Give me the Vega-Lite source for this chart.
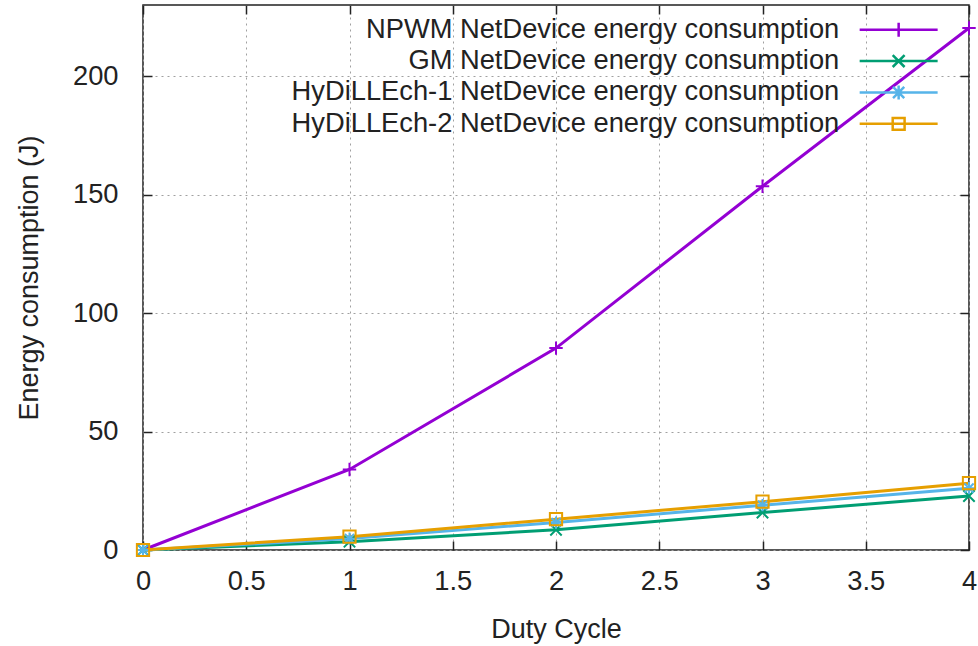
{
  "$schema": "https://vega.github.io/schema/vega-lite/v6.json",
  "width": 826,
  "height": 545,
  "autosize": {"type": "none"},
  "padding": {"left": 143, "top": 5, "right": 9, "bottom": 96},
  "background": "white",
  "config": {
    "font": "Liberation Sans",
    "view": {"stroke": "#222222", "strokeWidth": 1.5},
    "axis": {
      "labelFont": "Liberation Sans",
      "titleFont": "Liberation Sans",
      "labelFontSize": 27.3,
      "titleFontSize": 27,
      "labelColor": "#222222",
      "titleColor": "#222222",
      "titleFontWeight": "normal",
      "domain": false,
      "tickColor": "#222222",
      "tickWidth": 1.5,
      "tickSize": -9,
      "gridColor": "#a0a0a0",
      "gridDash": [2, 4],
      "gridWidth": 1
    }
  },
  "data": {
    "values": [
      {"series": "NPWM NetDevice energy consumption", "duty": 0, "energy": 0},
      {"series": "NPWM NetDevice energy consumption", "duty": 1, "energy": 34},
      {"series": "NPWM NetDevice energy consumption", "duty": 2, "energy": 85.2},
      {"series": "NPWM NetDevice energy consumption", "duty": 3, "energy": 153.5},
      {"series": "NPWM NetDevice energy consumption", "duty": 4, "energy": 220.3},
      {"series": "GM NetDevice energy consumption", "duty": 0, "energy": 0},
      {"series": "GM NetDevice energy consumption", "duty": 1, "energy": 3.5},
      {"series": "GM NetDevice energy consumption", "duty": 2, "energy": 8.5},
      {"series": "GM NetDevice energy consumption", "duty": 3, "energy": 15.8},
      {"series": "GM NetDevice energy consumption", "duty": 4, "energy": 22.8},
      {"series": "HyDiLLEch-1 NetDevice energy consumption", "duty": 0, "energy": 0},
      {"series": "HyDiLLEch-1 NetDevice energy consumption", "duty": 1, "energy": 4.8},
      {"series": "HyDiLLEch-1 NetDevice energy consumption", "duty": 2, "energy": 11.6},
      {"series": "HyDiLLEch-1 NetDevice energy consumption", "duty": 3, "energy": 18.9},
      {"series": "HyDiLLEch-1 NetDevice energy consumption", "duty": 4, "energy": 26.1},
      {"series": "HyDiLLEch-2 NetDevice energy consumption", "duty": 0, "energy": 0},
      {"series": "HyDiLLEch-2 NetDevice energy consumption", "duty": 1, "energy": 5.6},
      {"series": "HyDiLLEch-2 NetDevice energy consumption", "duty": 2, "energy": 13},
      {"series": "HyDiLLEch-2 NetDevice energy consumption", "duty": 3, "energy": 20.4},
      {"series": "HyDiLLEch-2 NetDevice energy consumption", "duty": 4, "energy": 28.2}
    ]
  },
  "resolve": {"axis": {"x": "independent", "y": "independent"}},
  "encoding": {
    "color": {
      "field": "series", "type": "nominal",
      "scale": {
        "domain": [
          "NPWM NetDevice energy consumption",
          "GM NetDevice energy consumption",
          "HyDiLLEch-1 NetDevice energy consumption",
          "HyDiLLEch-2 NetDevice energy consumption"
        ],
        "range": ["#9400d3", "#009e73", "#56b4e9", "#e69f00"]
      },
      "legend": {
        "title": null,
        "orient": "none",
        "legendX": 742,
        "legendY": 11,
        "padding": 0,
        "labelFont": "Liberation Sans",
        "labelFontSize": 27.3,
        "labelColor": "#222222",
        "labelAlign": "right",
        "labelOffset": -73,
        "labelLimit": 0,
        "rowPadding": 3.4,
        "symbolSize": 196,
        "symbolStrokeWidth": 2.5,
        "symbolFillColor": "transparent",
        "encode": {
          "symbols": {
            "update": {
              "shape": {"signal": "datum.value === 'NPWM NetDevice energy consumption' ? 'M-5.57,0H5.57M0,-1V1' : datum.value === 'GM NetDevice energy consumption' ? 'M-5.57,0H5.57M-0.85,-0.85L0.85,0.85M-0.85,0.85L0.85,-0.85' : datum.value === 'HyDiLLEch-1 NetDevice energy consumption' ? 'M-5.57,0H5.57M0,-1V1M-0.8,-0.8L0.8,0.8M-0.8,0.8L0.8,-0.8' : 'M-5.57,0H5.57M-0.85,-0.85H0.85V0.85H-0.85Z'"},
              "fill": {"value": "transparent"},
              "strokeWidth": {"value": 2.5}
            }
          }
        }
      }
    }
  },
  "layer": [
    {
      "mark": {"type": "line", "strokeWidth": 3, "clip": false},
      "encoding": {
        "x": {
          "field": "duty", "type": "quantitative",
          "scale": {"domain": [0, 4], "nice": false},
          "axis": {
            "title": "Duty Cycle",
            "values": [0, 0.5, 1, 1.5, 2, 2.5, 3, 3.5, 4],
            "format": "~g",
            "labelPadding": 26,
            "titlePadding": 22,
            "labelFlush": false,
            "labelOverlap": false
          }
        },
        "y": {
          "field": "energy", "type": "quantitative",
          "scale": {"domain": [0, 230], "nice": false},
          "axis": {
            "title": "Energy consumption (J)",
            "values": [0, 50, 100, 150, 200],
            "labelPadding": 34,
            "titlePadding": 29,
            "labelFlush": false,
            "labelOverlap": false
          }
        }
      }
    },
    {
      "transform": [{"filter": "datum.series === 'NPWM NetDevice energy consumption'"}],
      "mark": {"type": "point", "shape": "M-1,0H1M0,-1V1", "filled": false, "strokeWidth": 2, "size": 180, "opacity": 1, "clip": false},
      "encoding": {
        "x": {
          "field": "duty", "type": "quantitative",
          "axis": {"orient": "top", "title": null, "labels": false, "grid": false, "values": [0, 0.5, 1, 1.5, 2, 2.5, 3, 3.5, 4]}
        },
        "y": {
          "field": "energy", "type": "quantitative",
          "axis": {"orient": "right", "title": null, "labels": false, "grid": false, "values": [0, 50, 100, 150, 200]}
        }
      }
    },
    {
      "transform": [{"filter": "datum.series === 'GM NetDevice energy consumption'"}],
      "mark": {"type": "point", "shape": "M-1,-1L1,1M-1,1L1,-1", "filled": false, "strokeWidth": 2, "size": 130, "opacity": 1, "clip": false},
      "encoding": {
        "x": {"field": "duty", "type": "quantitative", "axis": null},
        "y": {"field": "energy", "type": "quantitative", "axis": null}
      }
    },
    {
      "transform": [{"filter": "datum.series === 'HyDiLLEch-1 NetDevice energy consumption'"}],
      "mark": {"type": "point", "shape": "M-1,0H1M0,-1V1M-0.75,-0.75L0.75,0.75M-0.75,0.75L0.75,-0.75", "filled": false, "strokeWidth": 2, "size": 150, "opacity": 1, "clip": false},
      "encoding": {
        "x": {"field": "duty", "type": "quantitative", "axis": null},
        "y": {"field": "energy", "type": "quantitative", "axis": null}
      }
    },
    {
      "transform": [{"filter": "datum.series === 'HyDiLLEch-2 NetDevice energy consumption'"}],
      "mark": {"type": "point", "shape": "M-1,-1H1V1H-1Z", "filled": false, "strokeWidth": 2, "size": 150, "opacity": 1, "clip": false},
      "encoding": {
        "x": {"field": "duty", "type": "quantitative", "axis": null},
        "y": {"field": "energy", "type": "quantitative", "axis": null}
      }
    }
  ]
}
